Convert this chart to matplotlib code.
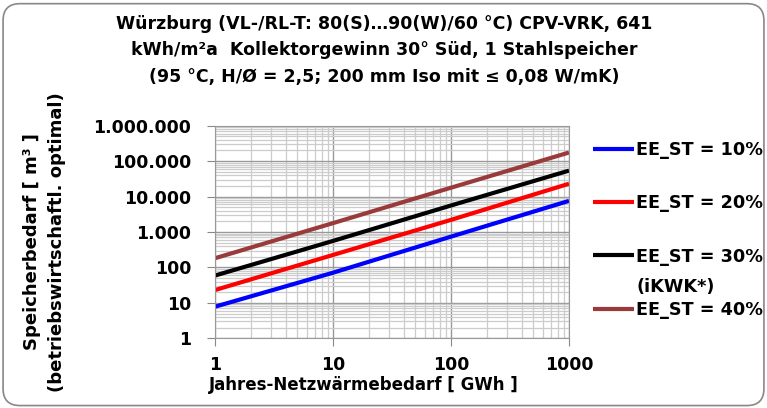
import matplotlib
matplotlib.use("Agg")
import matplotlib.pyplot as plt
from matplotlib.patches import FancyBboxPatch
from matplotlib.ticker import FixedLocator, LogLocator, NullFormatter

plt.rcParams['font.family'] = ['DejaVu Sans']

x_vals = [1, 10, 100, 1000]
ee10 = [7.8, 71, 740, 7560]
ee20 = [23, 225, 2200, 23000]
ee30 = [59, 560, 5600, 54000]
ee40 = [182, 1780, 17800, 175000]
labels = ['EE_ST = 10%', 'EE_ST = 20%', 'EE_ST = 30%', 'EE_ST = 40%']
note_30 = '(iKWK*)'
colors = ['#0000ff', '#ff0000', '#000000', '#9b3a3a']
series = [ee10, ee20, ee30, ee40]
y_ticks = [1, 10, 100, 1000, 10000, 100000, 1000000]
y_tick_labels = ['1', '10', '100', '1.000', '10.000', '100.000', '1.000.000']
x_ticks = [1, 10, 100, 1000]
x_tick_labels = ['1', '10', '100', '1000']

W, H = 767, 408
fig = plt.figure(figsize=(W / 100, H / 100), dpi=100)
border = FancyBboxPatch((0.004, 0.006), 0.992, 0.985, boxstyle="round,pad=0,rounding_size=0.022",
                        transform=fig.transFigure, facecolor='none', edgecolor='#888888', lw=1.2,
                        mutation_aspect=W / H, zorder=-1)
fig.patches.append(border)

ax_w = 569 - 215
ax_h = 338.3 - 125.7
ax = fig.add_axes([215 / W, 1 - 338.3 / H, ax_w / W, ax_h / H])
for s, c, l in zip(series, colors, labels):
    ax.plot(x_vals, s, color=c, lw=3.0, label=l, solid_capstyle='butt')

ax.set_xscale('log')
ax.set_yscale('log')
ax.set_xlim(1, 1000)
ax.set_ylim(1, 1000000)
ax.yaxis.set_major_locator(FixedLocator(y_ticks))
ax.set_yticklabels(y_tick_labels)
ax.xaxis.set_major_locator(FixedLocator(x_ticks))
ax.set_xticklabels(x_tick_labels)
ax.xaxis.set_minor_locator(LogLocator(base=10, subs=range(2, 10)))
ax.yaxis.set_minor_locator(LogLocator(base=10, subs=range(2, 10), numticks=20))
ax.xaxis.set_minor_formatter(NullFormatter())
ax.yaxis.set_minor_formatter(NullFormatter())
ax.grid(which='major', color='#999999', lw=1.0)
ax.grid(which='minor', color='#cccccc', lw=0.9)
ax.set_axisbelow(True)
ax.tick_params(which='minor', length=0)
ax.tick_params(axis='y', which='major', direction='out', length=6, color='#888888', labelsize=12.5, pad=11)
ax.tick_params(axis='x', which='major', direction='out', length=6, color='#888888', labelsize=12.5, pad=7)
for lab in ax.get_xticklabels() + ax.get_yticklabels():
    lab.set_fontweight('bold')
for sp in ax.spines.values():
    sp.set_color('#999999')

ax.set_xlabel('Jahres-Netzwärmebedarf [ GWh ]', fontsize=12, fontweight='bold')
ax.xaxis.set_label_coords((364 - 215) / ax_w, -(376 - 338.3) / ax_h)
ax.set_ylabel('Speicherbedarf [ m³ ]\n(betriebswirtschaftl. optimal)', fontsize=13,
              fontweight='bold', linespacing=1.5)
ax.yaxis.set_label_coords(-(215 - 66) / ax_w, 0.5 - 10 / ax_h)

title_lines = ['Würzburg (VL-/RL-T: 80(S)…90(W)/60 °C) CPV-VRK, 641',
               'kWh/m²a  Kollektorgewinn 30° Süd, 1 Stahlspeicher',
               '(95 °C, H/Ø = 2,5; 200 mm Iso mit ≤ 0,08 W/mK)']
for t, yc in zip(title_lines, [24, 50, 77]):
    fig.text(384 / W, 1 - yc / H, t, ha='center', va='center', fontsize=12.5, fontweight='bold')

leg = fig.legend(loc='upper left', bbox_to_anchor=(586 / W, 1 - 134 / H), frameon=False,
                 handlelength=2.3, handletextpad=0.15, labelspacing=2.0, borderaxespad=0,
                 prop={'weight': 'bold', 'size': 12.7})
fig.canvas.draw()
t30 = leg.get_texts()[2]
bb = t30.get_window_extent()
fig.text(bb.x0 / W, (bb.y0 - 30) / H, note_30, ha='left', va='bottom', fontsize=12.7, fontweight='bold')

fig.savefig('out.png', dpi=100)
